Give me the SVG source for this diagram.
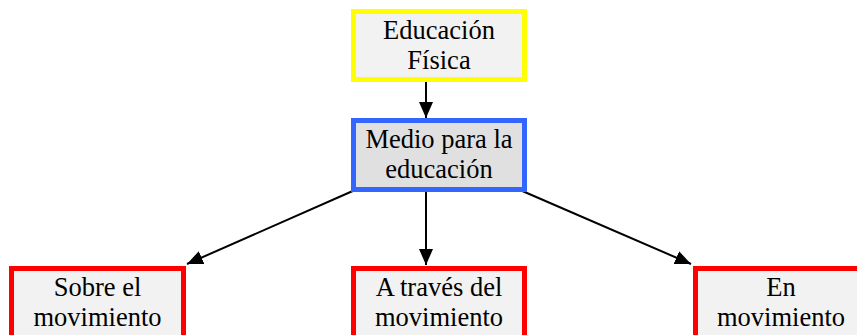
<svg xmlns="http://www.w3.org/2000/svg" width="857" height="335" viewBox="0 0 857 335">
<style>
.box{stroke-width:5}
.t{font-family:"Liberation Serif","Times New Roman",serif;font-size:26.5px;fill:#000;text-anchor:middle}
.c{stroke:#000;stroke-width:2;fill:none;marker-end:url(#ah)}
</style>
<defs>
<marker id="ah" markerUnits="userSpaceOnUse" markerWidth="16" markerHeight="14" refX="16" refY="7" orient="auto">
<path d="M0,0 L16,7 L0,14 z" fill="#000"/>
</marker>
</defs>
<rect width="857" height="335" fill="#fff"/>
<g id="connectors">
<line class="c" x1="426" y1="82" x2="426" y2="118"/>
<line class="c" x1="426" y1="192" x2="426" y2="265"/>
<line class="c" x1="355" y1="190" x2="187" y2="264"/>
<line class="c" x1="520" y1="190" x2="691" y2="264"/>
</g>
<g id="n1">
<rect class="box" x="353.5" y="11.5" width="171" height="68" fill="#f2f2f2" stroke="#ffff00"/>
<text class="t" x="439" y="39">Educación</text>
<text class="t" x="439" y="69">Física</text>
</g>
<g id="n2">
<rect class="box" x="353.5" y="120.5" width="171" height="69" fill="#e0e0e0" stroke="#3366ff"/>
<text class="t" x="439" y="148">Medio para la</text>
<text class="t" x="439" y="178">educación</text>
</g>
<g id="n3">
<rect class="box" x="11.5" y="268.5" width="172" height="72" fill="#f2f2f2" stroke="#ff0000"/>
<text class="t" x="97.5" y="296">Sobre el</text>
<text class="t" x="97.5" y="326">movimiento</text>
</g>
<g id="n4">
<rect class="box" x="353.5" y="268.5" width="171" height="72" fill="#f2f2f2" stroke="#ff0000"/>
<text class="t" x="439" y="296">A través del</text>
<text class="t" x="439" y="326">movimiento</text>
</g>
<g id="n5">
<rect class="box" x="695.5" y="268.5" width="171" height="72" fill="#f2f2f2" stroke="#ff0000"/>
<text class="t" x="781" y="296">En</text>
<text class="t" x="781" y="326">movimiento</text>
</g>
</svg>
